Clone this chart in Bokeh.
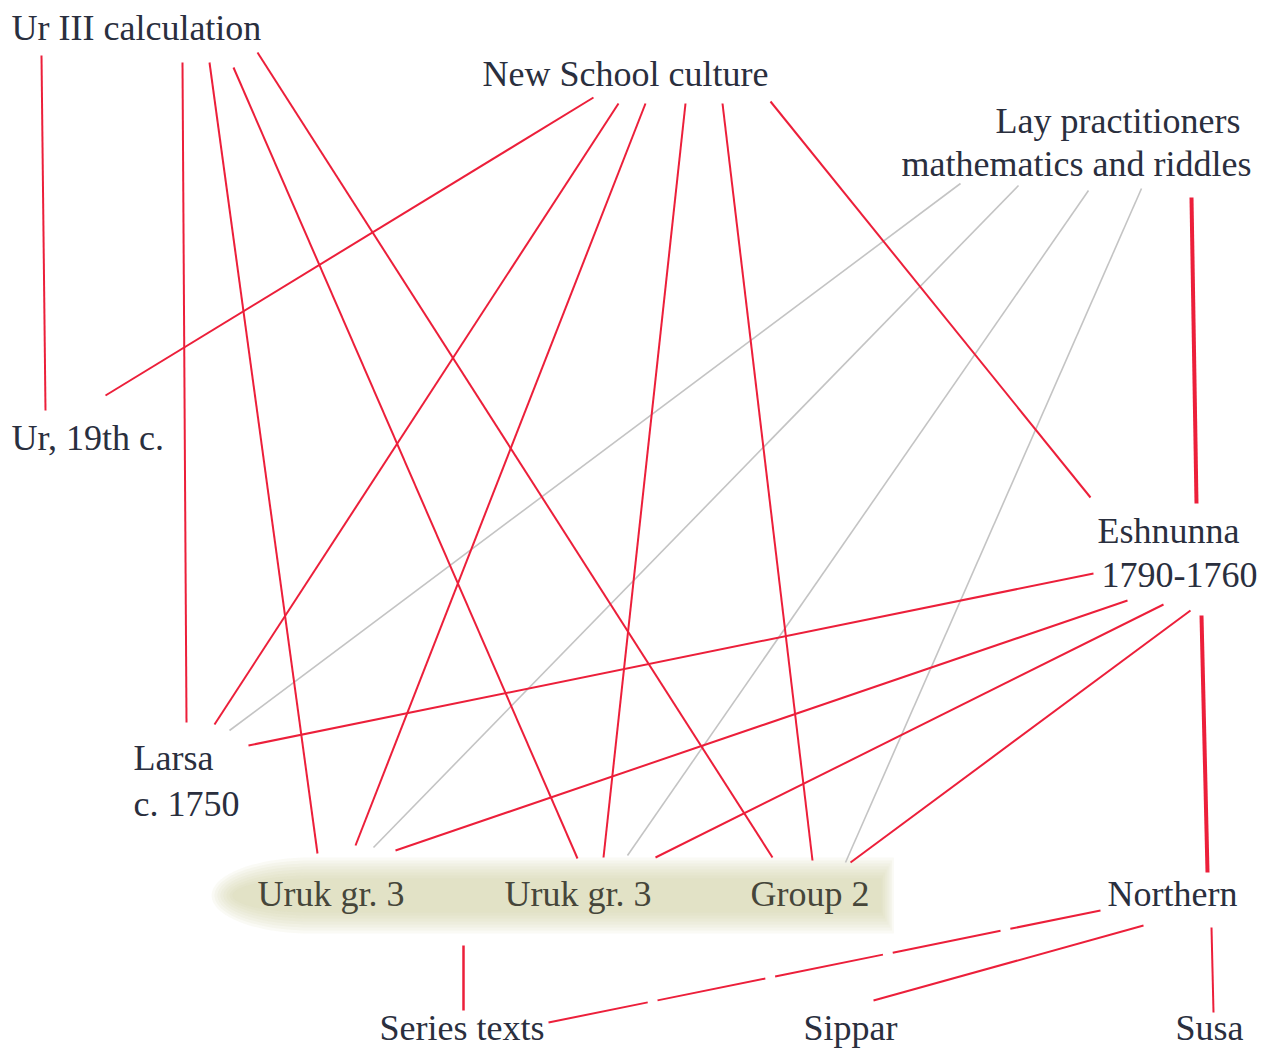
import numpy as np
from bokeh.plotting import figure
from bokeh.models import Range1d
from bokeh.core.properties import value
from bokeh.embed import file_html
from bokeh.resources import INLINE

# ---- node labels (left x, centre y in diagram units) ----
label_text = ["Ur III calculation", "New School culture", "Lay practitioners",
              "mathematics and riddles", "Ur, 19th c.", "Eshnunna", "1790-1760",
              "Larsa", "c. 1750", "Northern", "Series texts", "Sippar", "Susa"]
label_x = [11, 482, 995, 901, 11, 1097, 1101, 133, 133, 1107, 379, 803, 1175]
label_y = [27, 73, 120, 163, 437, 530, 574, 757, 803, 893, 1027, 1027, 1027]

group_text = ["Uruk gr. 3", "Uruk gr. 3", "Group 2"]
group_x = [257, 504, 750]
group_y = [893, 893, 893]

# ---- edges: start point, end point ----
edge_x0 = [41, 182, 209, 233, 257,
           593, 618, 645, 685, 722, 770,
           1093, 1127, 1163, 1190,
           1143, 1211]
edge_y0 = [55, 62, 62, 67, 52,
           97, 103, 103, 103, 103, 101,
           573, 600, 604, 610,
           925, 927]
edge_x1 = [45, 186, 317, 577, 772,
           105, 214, 355, 603, 812, 1090,
           248, 395, 655, 850,
           873, 1213]
edge_y1 = [410, 722, 853, 858, 857,
           395, 724, 845, 857, 860, 497,
           745, 850, 857, 862,
           1000, 1012]

grey_x0 = [960, 1018, 1088, 1141]
grey_y0 = [183, 185, 190, 188]
grey_x1 = [229, 373, 627, 845]
grey_y1 = [730, 847, 855, 862]

thick_x0 = [1191, 1201]
thick_y0 = [197, 615]
thick_x1 = [1196, 1207]
thick_y1 = [503, 872]

series_x0 = [463]
series_y0 = [945]
series_x1 = [463]
series_y1 = [1010]

dashed_x0 = [1100]
dashed_y0 = [910]
dashed_x1 = [548]
dashed_y1 = [1022]

RED = "#ec1f3a"
GREY = "#c4c4c4"
TXT = "#2a2f3e"

W, H = 1285, 1048
p = figure(width=W, height=H, output_backend="svg", toolbar_location=None,
           x_range=Range1d(0, W), y_range=Range1d(H, 0),
           min_border=0, min_border_left=0, min_border_right=0,
           min_border_top=0, min_border_bottom=0)
p.axis.visible = False
p.grid.visible = False
p.outline_line_color = None
p.background_fill_color = "white"
p.border_fill_color = "white"

# soft highlight band behind the groups (rounded left end, soft right end)
for grow in [14, 11, 8, 5, 2, -1, -4, -7]:
    cx, cy = 310, 895
    rx, ry = 85 + grow, 24 + grow
    t = np.linspace(np.pi / 2, 3 * np.pi / 2, 40)
    right = 885 + grow * 0.6
    xs = list(cx + rx * np.cos(t)) + [right, right]
    ys = list(cy - ry * np.sin(t)) + [cy + ry, cy - ry]
    p.patch(x=xs, y=ys, fill_color="#cfcfa8", fill_alpha=0.11, line_color=None)

p.segment(x0=grey_x0, y0=grey_y0, x1=grey_x1, y1=grey_y1,
          line_color=GREY, line_width=1.6)
p.segment(x0=edge_x0, y0=edge_y0, x1=edge_x1, y1=edge_y1,
          line_color=RED, line_width=2)
p.segment(x0=thick_x0, y0=thick_y0, x1=thick_x1, y1=thick_y1,
          line_color=RED, line_width=4)
p.segment(x0=series_x0, y0=series_y0, x1=series_x1, y1=series_y1,
          line_color=RED, line_width=2.5)
p.segment(x0=dashed_x0, y0=dashed_y0, x1=dashed_x1, y1=dashed_y1,
          line_color=RED, line_width=2, line_dash="110 10", line_dash_offset=18)

p.text(x=label_x, y=label_y, text=label_text, text_font=value("Liberation Serif"),
       text_font_size="36px", text_color=TXT, text_baseline="middle", text_align="left")
p.text(x=group_x, y=group_y, text=group_text, text_font=value("Liberation Serif"),
       text_font_size="36px", text_color="#46463a", text_baseline="middle", text_align="left")

open("out.html", "w").write(file_html(p, INLINE))
